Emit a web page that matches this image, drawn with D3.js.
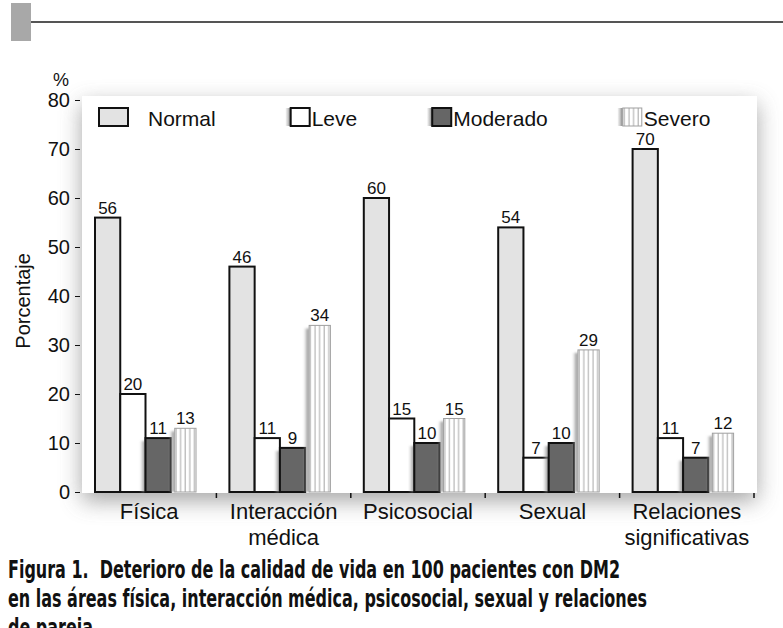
<!DOCTYPE html>
<html>
<head>
    <meta charset="utf-8">
    <title>Deterioro de la calidad de vida</title>
    <script src="https://d3js.org/d3.v7.min.js"></script>
    <style>
        body { margin: 0; background: #fff; }
        text { font-family: "Liberation Sans", Arial, sans-serif; fill: #111; }
        .caption { font-family: "DejaVu Sans", "Liberation Sans", sans-serif; font-weight: bold; white-space: pre; }
    </style>
</head>
<body>
<script>
    // data
    var categories = ["Física", "Interacción\nmédica", "Psicosocial", "Sexual", "Relaciones\nsignificativas"];
    var series = ["Normal", "Leve", "Moderado", "Severo"];
    var normal   = [56, 46, 60, 54, 70];
    var leve     = [20, 11, 15, 7, 11];
    var moderado = [11, 9, 10, 10, 7];
    var severo   = [13, 34, 15, 29, 12];
    var yTicks = [0, 10, 20, 30, 40, 50, 60, 70, 80];
    var captionLines = [
        "Figura 1.  Deterioro de la calidad de vida en 100 pacientes con DM2",
        "en las áreas física, interacción médica, psicosocial, sexual y relaciones",
        "de pareja"
    ];

    var values = [normal, leve, moderado, severo];

    var width = 783, height = 628;
    var panel = {left: 82, right: 757, top: 96, bottom: 493};

    var svg = d3.select("body").append("svg")
        .attr("width", width)
        .attr("height", height);

    var defs = svg.append("defs");

    defs.append("filter").attr("id", "halo")
        .attr("x", "-20%").attr("y", "-20%").attr("width", "140%").attr("height", "140%")
        .append("feGaussianBlur").attr("stdDeviation", 11);

    defs.append("filter").attr("id", "soft")
        .attr("x", "-50%").attr("width", "200%")
        .append("feGaussianBlur").attr("stdDeviation", 0.8);

    var shade = defs.append("linearGradient").attr("id", "shade");
    shade.append("stop").attr("offset", "0%").attr("stop-color", "#bbb").attr("stop-opacity", 0.2);
    shade.append("stop").attr("offset", "100%").attr("stop-color", "#777");

    var stripes = defs.append("pattern").attr("id", "stripes")
        .attr("patternUnits", "userSpaceOnUse")
        .attr("width", 4.6).attr("height", 10);
    stripes.append("rect").attr("width", 4.6).attr("height", 10).attr("fill", "#fff");
    stripes.append("line").attr("x1", 2).attr("x2", 2).attr("y1", 0).attr("y2", 10)
        .attr("stroke", "#a8a8a8").attr("stroke-width", 1);

    // header decoration
    svg.append("rect").attr("x", 11).attr("y", 3).attr("width", 20).attr("height", 38).attr("fill", "#a8a8a8");
    svg.append("line").attr("x1", 31).attr("x2", width).attr("y1", 22).attr("y2", 22)
        .attr("stroke", "#555").attr("stroke-width", 2);

    // panel with soft shadow
    svg.append("rect")
        .attr("x", panel.left).attr("y", panel.top + 8)
        .attr("width", panel.right - panel.left).attr("height", panel.bottom - panel.top)
        .attr("fill", "#909090").attr("opacity", 0.8)
        .attr("filter", "url(#halo)");
    svg.append("rect")
        .attr("x", panel.left).attr("y", panel.top)
        .attr("width", panel.right - panel.left).attr("height", panel.bottom - panel.top)
        .attr("fill", "#fff");

    var x0 = d3.scaleBand().domain(categories).range([82, 754]);
    var x1 = d3.scaleBand().domain(series).range([13, 114]);
    var y = d3.scaleLinear().domain([0, 80]).range([492, 100]);

    // y axis
    var yAxis = svg.append("g")
        .attr("transform", "translate(80,0)")
        .call(d3.axisLeft(y).tickValues(yTicks).tickSize(5).tickPadding(5));
    yAxis.select(".domain").remove();
    yAxis.selectAll("line").attr("stroke", "#111");
    yAxis.selectAll("text").style("font-size", "20px").attr("fill", "#111")
        .style("font-family", "'Liberation Sans', Arial, sans-serif");

    svg.append("text").attr("x", 61).attr("y", 86).attr("text-anchor", "middle")
        .style("font-size", "18px").text("%");

    svg.append("text")
        .attr("transform", "translate(30," + y(39) + ") rotate(-90)")
        .attr("text-anchor", "middle")
        .style("font-size", "20px")
        .text("Porcentaje");

    // category separators
    svg.append("g").selectAll("line")
        .data(categories)
        .join("line")
        .attr("x1", function(d) { return x0(d) + x0.bandwidth(); })
        .attr("x2", function(d) { return x0(d) + x0.bandwidth(); })
        .attr("y1", 493).attr("y2", 498)
        .attr("stroke", "#111").attr("stroke-width", 1.5);

    // category labels
    var catLabels = svg.append("g").selectAll("text")
        .data(categories)
        .join("text")
        .attr("x", function(d) { return x0(d) + x0.bandwidth() / 2; })
        .attr("y", 519)
        .attr("text-anchor", "middle")
        .style("font-size", "22px");
    catLabels.each(function(d) {
        var t = d3.select(this);
        d.split("\n").forEach(function(line, i) {
            t.append("tspan")
                .attr("x", t.attr("x"))
                .attr("dy", i === 0 ? 0 : 26)
                .text(line);
        });
    });

    var groups = svg.append("g").selectAll("g")
        .data(categories)
        .join("g")
        .attr("transform", function(d) { return "translate(" + x0(d) + ",0)"; });

    function barX(s) { return x1(s) + (s === "Severo" ? 4 : 0); }
    function barW(s) { return x1.bandwidth() - (s === "Severo" ? 4 : 0); }

    function drawBars(si) {
        var s = series[si];
        // shadow strip on the left for the darker / striped bars
        if (s === "Moderado" || s === "Severo") {
            groups.append("rect")
                .attr("x", barX(s) - 5)
                .attr("width", 5)
                .attr("y", function(d, i) { return y(values[si][i]) + 3; })
                .attr("height", function(d, i) { return 492 - y(values[si][i]) - 3; })
                .attr("fill", "url(#shade)")
                .attr("filter", "url(#soft)");
        }
        groups.append("rect")
            .attr("x", barX(s))
            .attr("width", barW(s))
            .attr("y", function(d, i) { return y(values[si][i]); })
            .attr("height", function(d, i) { return 492 - y(values[si][i]); })
            .attr("fill", s === "Normal" ? "#e3e3e3" : s === "Leve" ? "#fff" : s === "Moderado" ? "#666" : "url(#stripes)")
            .attr("stroke", s === "Severo" ? "#a0a0a0" : "#111")
            .attr("stroke-width", s === "Severo" ? 1 : 2);
    }
    drawBars(0);
    drawBars(1);
    drawBars(2);
    drawBars(3);

    // value labels
    series.forEach(function(s, si) {
        groups.append("text")
            .attr("x", barX(s) + barW(s) / 2)
            .attr("y", function(d, i) { return y(values[si][i]) - 4; })
            .attr("text-anchor", "middle")
            .style("font-size", "17px")
            .text(function(d, i) { return values[si][i]; });
    });

    // legend
    var legend = svg.append("g");
    var lx = 98, ly = 107;
    series.forEach(function(s, i) {
        var g = legend.append("g").attr("transform", "translate(" + lx + "," + ly + ")");
        var textX;
        if (s === "Normal") {
            g.append("rect").attr("x", 1).attr("y", 1).attr("width", 29).attr("height", 18)
                .attr("fill", "#e3e3e3").attr("stroke", "#111").attr("stroke-width", 2);
            textX = 50;
        } else {
            g.append("rect").attr("x", 0).attr("y", 1).attr("width", 5).attr("height", 18)
                .attr("fill", "url(#shade)");
            g.append("rect").attr("x", 5).attr("y", 1).attr("width", 19).attr("height", 18)
                .attr("fill", s === "Leve" ? "#fff" : s === "Moderado" ? "#666" : "url(#stripes)")
                .attr("stroke", s === "Severo" ? "#a0a0a0" : "#111")
                .attr("stroke-width", s === "Severo" ? 1 : 2);
            textX = 26;
        }
        var t = g.append("text").attr("x", textX).attr("y", 19)
            .style("font-size", "21px").text(s);
        lx += textX + t.node().getComputedTextLength() + 70;
    });

    // caption: bold, squeezed to the narrow width of the original
    var caption = svg.append("g").selectAll("text")
        .data(captionLines)
        .join("text")
        .attr("class", "caption")
        .attr("x", 8)
        .attr("y", function(d, i) { return 578 + i * 29; })
        .style("font-size", "24px")
        .text(function(d) { return d; });
    var squeeze = 612 / caption.nodes()[0].getComputedTextLength();
    caption.each(function() {
        var len = this.getComputedTextLength() * squeeze;
        d3.select(this).attr("textLength", len).attr("lengthAdjust", "spacingAndGlyphs");
    });
</script>
</body>
</html>
